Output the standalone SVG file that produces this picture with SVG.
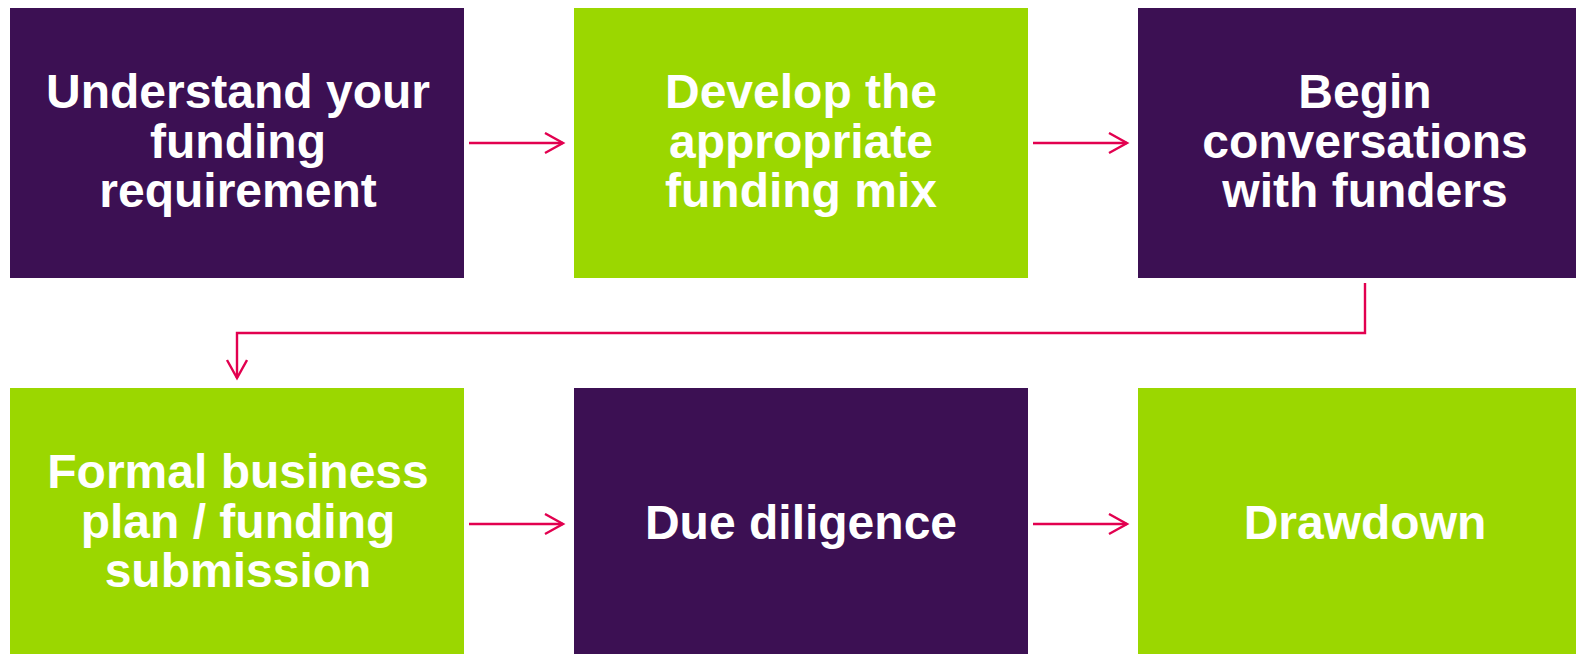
<svg xmlns="http://www.w3.org/2000/svg" width="1576" height="654" viewBox="0 0 1576 654">
<style>
.p{fill:#3C1053}
.g{fill:#9BD700}
text{font-family:"Liberation Sans",Arial,sans-serif;font-weight:bold;font-size:48px;fill:#FFFFFF;text-anchor:middle}
.c{fill:none;stroke:#E2004F;stroke-width:2.4}
</style>
<defs>
<marker id="ah" markerWidth="22" markerHeight="24" refX="19" refY="11" orient="auto" markerUnits="userSpaceOnUse">
<path d="M1,1 L19,11 L1,21" fill="none" stroke="#E2004F" stroke-width="2.4"/>
</marker>
</defs>
<g id="n1"><rect class="p" x="10" y="8" width="454" height="270"/>
<text x="238" y="108">Understand your</text><text x="238" y="157.5">funding</text><text x="238" y="207">requirement</text></g>
<g id="n2"><rect class="g" x="574" y="8" width="454" height="270"/>
<text x="801" y="108">Develop the</text><text x="801" y="157.5">appropriate</text><text x="801" y="207">funding mix</text></g>
<g id="n3"><rect class="p" x="1138" y="8" width="454" height="270"/>
<text x="1365" y="108">Begin</text><text x="1365" y="157.5">conversations</text><text x="1365" y="207">with funders</text></g>
<g id="n4"><rect class="g" x="10" y="388" width="454" height="280"/>
<text x="238" y="488">Formal business</text><text x="238" y="537.5">plan / funding</text><text x="238" y="587">submission</text></g>
<g id="n5"><rect class="p" x="574" y="388" width="454" height="280"/>
<text x="801" y="539">Due diligence</text></g>
<g id="n6"><rect class="g" x="1138" y="388" width="454" height="280"/>
<text x="1365" y="539">Drawdown</text></g>
<g id="connectors">
<path class="c" d="M469,143 H563" marker-end="url(#ah)"/>
<path class="c" d="M1033,143 H1127" marker-end="url(#ah)"/>
<path class="c" d="M1365,283 V333 H237 V378" marker-end="url(#ah)"/>
<path class="c" d="M469,524 H563" marker-end="url(#ah)"/>
<path class="c" d="M1033,524 H1127" marker-end="url(#ah)"/>
</g>
</svg>
